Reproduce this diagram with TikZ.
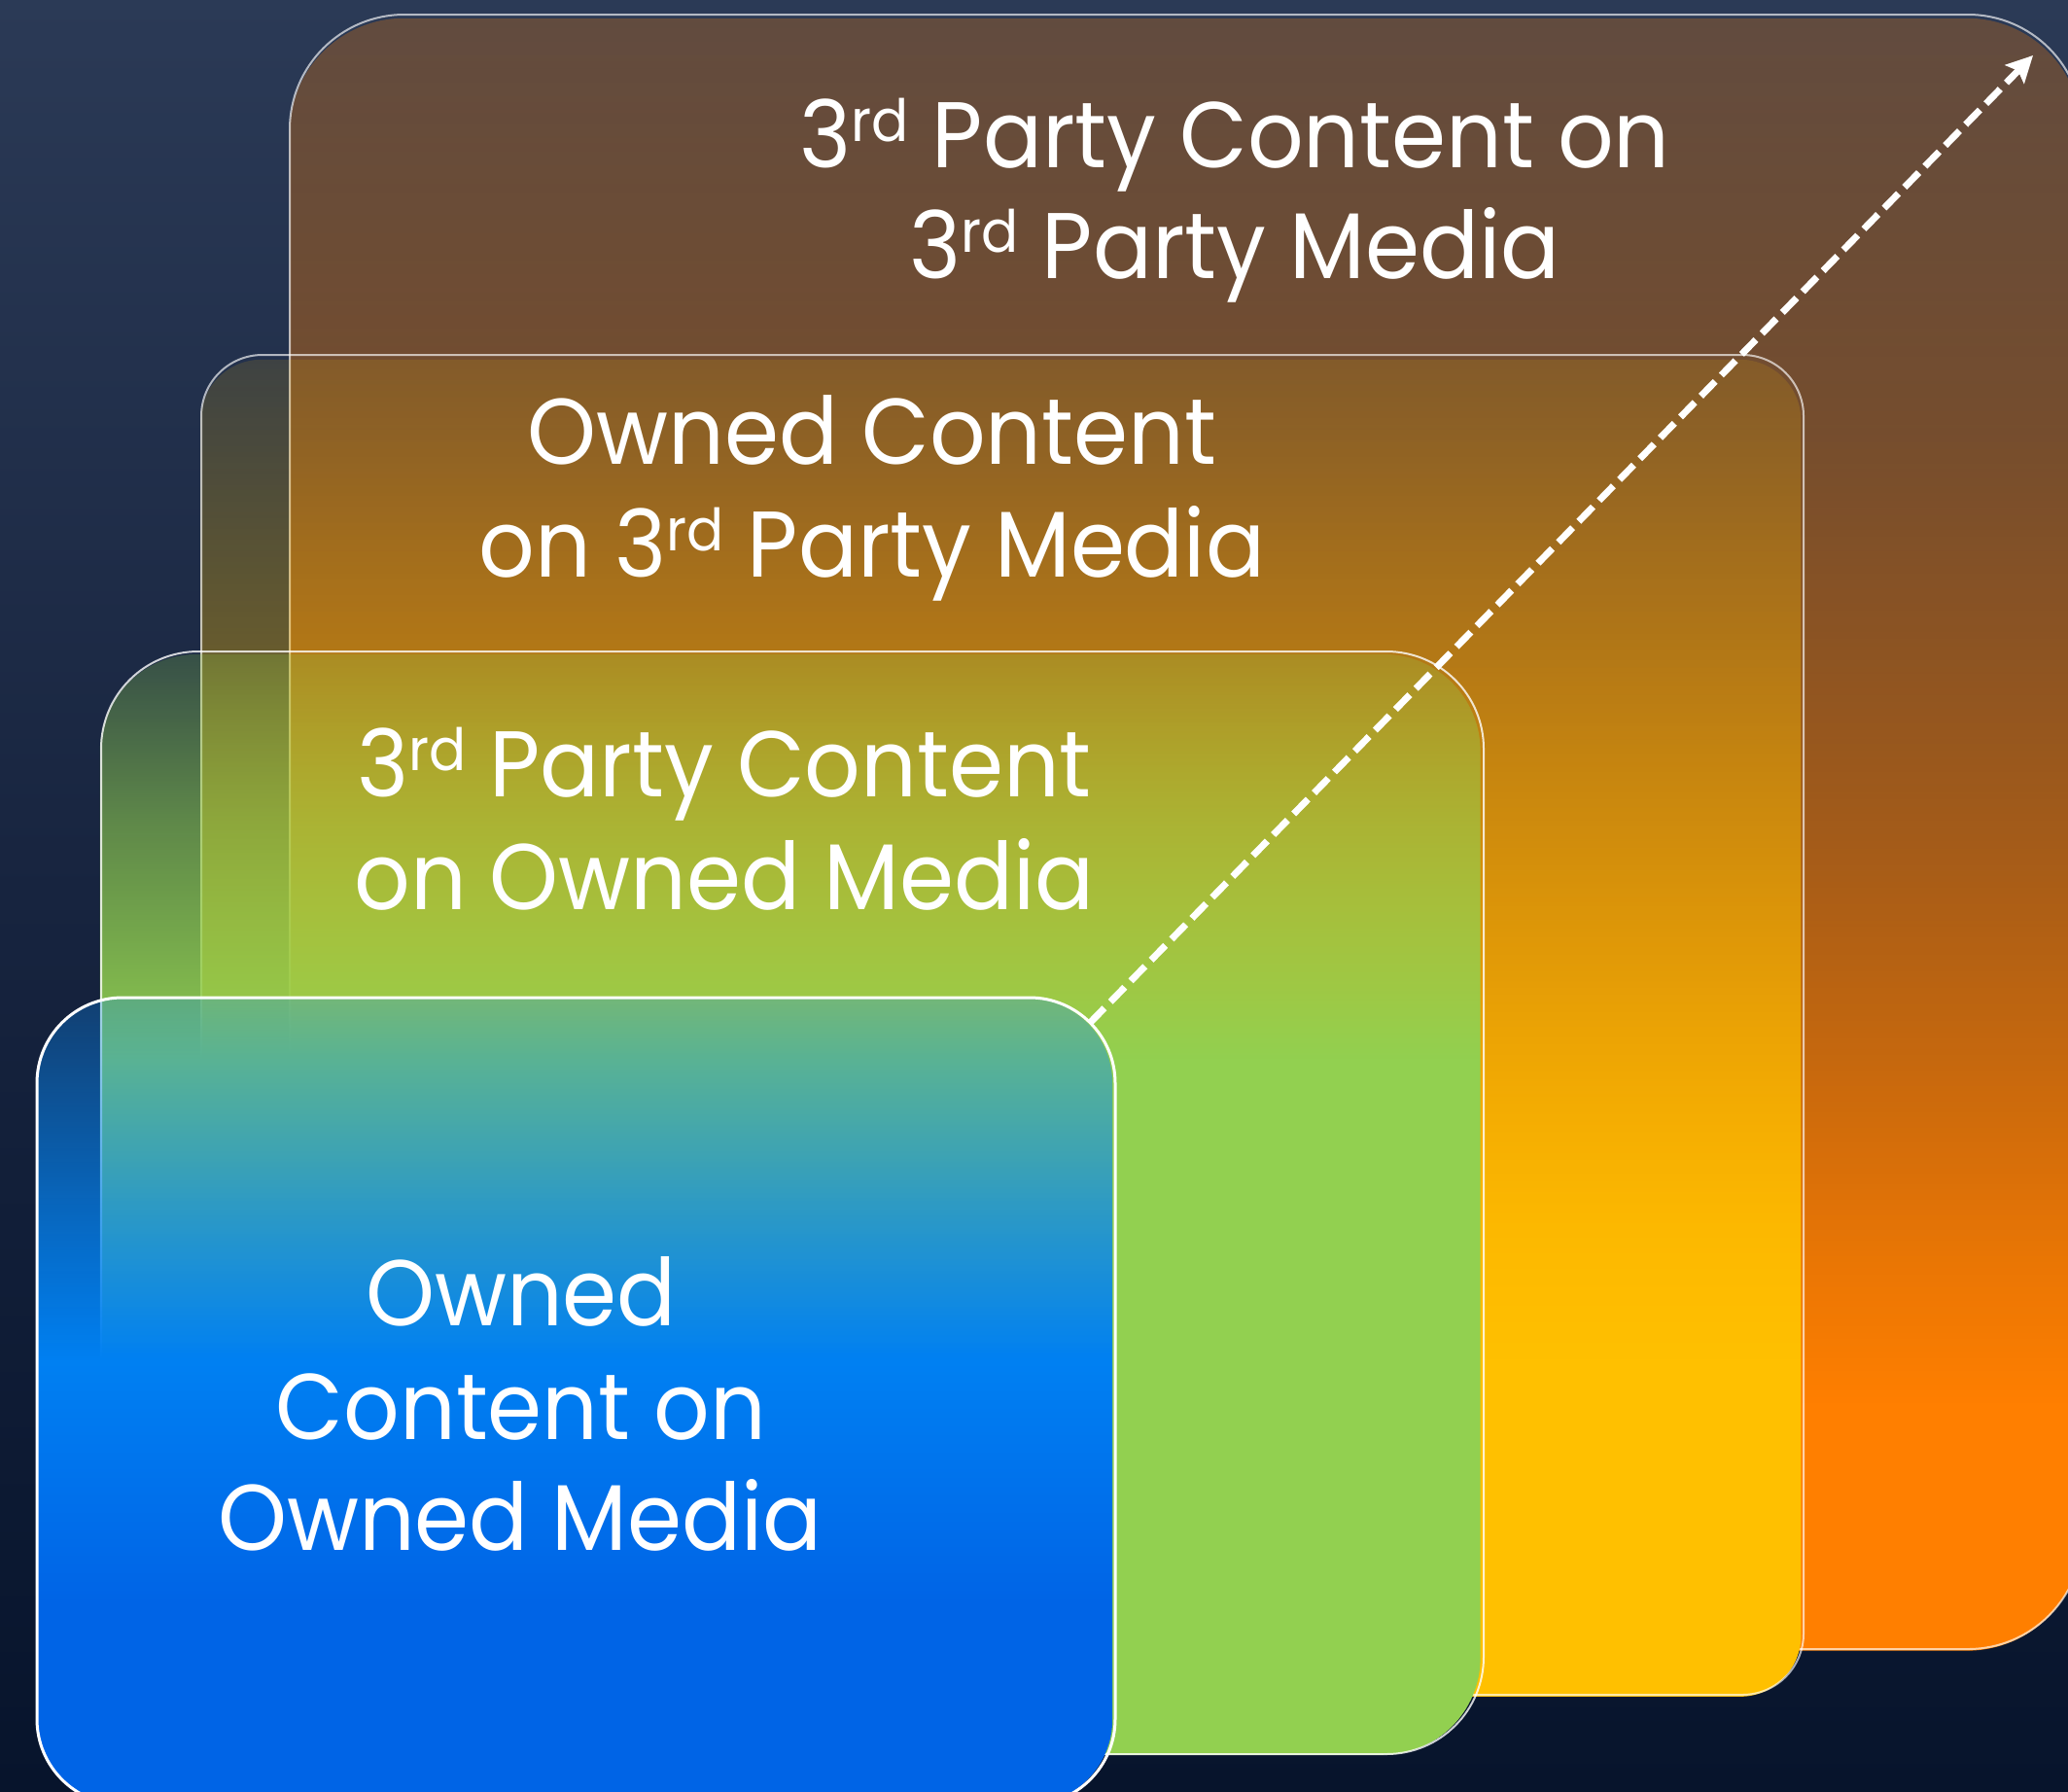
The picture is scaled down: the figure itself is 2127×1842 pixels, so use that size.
\documentclass[tikz,border=0pt]{standalone}
\usepackage{fontspec}
\setmainfont{Poppins}[FakeStretch=0.94]
\usetikzlibrary{arrows.meta,fadings}

\definecolor{bgtop}{HTML}{2B3A56}
\definecolor{bgmid}{HTML}{17243F}
\definecolor{bgbot}{HTML}{07142C}
\definecolor{orangec}{HTML}{FF7F00}
\definecolor{yellowc}{HTML}{FFC000}
\definecolor{greenc}{HTML}{92D050}
\definecolor{blueT}{HTML}{0A8AF8}
\definecolor{blueM}{HTML}{0080F2}
\definecolor{blueB}{HTML}{0064E6}

% TikZ maps the central band 25bp..75bp of a shading/fading onto the path's bounding box
\pgfdeclareverticalshading{bgshade}{100bp}{color(0bp)=(bgbot); color(25bp)=(bgbot); color(50bp)=(bgmid); color(75bp)=(bgtop); color(100bp)=(bgtop)}
\pgfdeclareverticalshading{blueshade}{100bp}{color(0bp)=(blueB); color(25bp)=(blueB); color(37.5bp)=(blueB); color(52.5bp)=(blueM); color(75bp)=(blueT); color(100bp)=(blueT)}

% opacity profiles (25bp = bottom edge, 75bp = top edge)
\pgfdeclareverticalshading{orangefs}{100bp}{color(0bp)=(pgftransparent!0); color(32.5bp)=(pgftransparent!0); color(37bp)=(pgftransparent!9); color(43bp)=(pgftransparent!24); color(49.5bp)=(pgftransparent!39); color(56bp)=(pgftransparent!51); color(62.25bp)=(pgftransparent!62); color(75bp)=(pgftransparent!74); color(100bp)=(pgftransparent!74)}
\pgfdeclarefading{orangefade}{\pgfuseshading{orangefs}}
\pgfdeclareverticalshading{yellowfs}{100bp}{color(0bp)=(pgftransparent!0); color(37.5bp)=(pgftransparent!0); color(42.5bp)=(pgftransparent!10); color(52.5bp)=(pgftransparent!40); color(64bp)=(pgftransparent!67); color(75bp)=(pgftransparent!88); color(100bp)=(pgftransparent!88)}
\pgfdeclarefading{yellowfade}{\pgfuseshading{yellowfs}}
\pgfdeclareverticalshading{greenfs}{100bp}{color(0bp)=(pgftransparent!0); color(56.5bp)=(pgftransparent!0); color(59.5bp)=(pgftransparent!14); color(67.2bp)=(pgftransparent!42); color(75bp)=(pgftransparent!78); color(100bp)=(pgftransparent!78)}
\pgfdeclarefading{greenfade}{\pgfuseshading{greenfs}}
\pgfdeclareverticalshading{bluefs}{100bp}{color(0bp)=(pgftransparent!0); color(52.5bp)=(pgftransparent!0); color(62.25bp)=(pgftransparent!30); color(75bp)=(pgftransparent!72); color(100bp)=(pgftransparent!72)}
\pgfdeclarefading{bluefade}{\pgfuseshading{bluefs}}

\newcommand\ordsup[1]{\raisebox{27pt}{\fontsize{60}{60}\selectfont #1}}

\tikzset{
  lbl/.style={text=white, anchor=base, inner sep=0pt, font=\fontsize{96}{115}\selectfont},
  boxline/.style={draw=white, draw opacity=0.65, line width=2pt},
  frontline/.style={draw=white, line width=3pt},
  arrowline/.style={white, line width=7pt, dash pattern=on 21pt off 9pt, -{Stealth[length=27pt,width=27pt,inset=5pt]}}
}

\begin{document}
\begin{tikzpicture}[x=1pt,y=-1pt]
\useasboundingbox (0,0) rectangle (2127,1842);
\clip (0,0) rectangle (2127,1842);
\shade[shading=bgshade] (0,0) rectangle (2127,1842);

% corners of the four panels
\coordinate (oTL) at (298,15);   \coordinate (oBR) at (2142,1696);
\coordinate (yTL) at (207,365);  \coordinate (yBR) at (1855,1743);
\coordinate (gTL) at (104,670);  \coordinate (gBR) at (1526,1804);
\coordinate (bTL) at (38,1026);  \coordinate (bBR) at (1147,1856);

% 3rd party content on 3rd party media
\fill[orangec, path fading=orangefade, rounded corners=118pt] (oTL) rectangle (oBR);
\path[boxline, rounded corners=118pt] (oTL) rectangle (oBR);
% owned content on 3rd party media
\fill[yellowc, path fading=yellowfade, rounded corners=63pt] (yTL) rectangle (yBR);
\path[boxline, rounded corners=63pt] (yTL) rectangle (yBR);
% 3rd party content on owned media
\fill[greenc, path fading=greenfade, rounded corners=100pt] (gTL) rectangle (gBR);
\path[boxline, draw opacity=0.8, rounded corners=100pt] (gTL) rectangle (gBR);
% owned content on owned media
\shade[shading=blueshade, path fading=bluefade, rounded corners=88pt] (bTL) rectangle (bBR);
\path[frontline, rounded corners=88pt] (bTL) rectangle (bBR);

% growth arrow
\coordinate (arrStart) at (1121.2,1051.8);
\coordinate (arrEnd) at (2091,57);
\draw[arrowline] (arrStart) -- (arrEnd);

% labels
\node[lbl] (t1a) at (1270,172) {3\ordsup{rd} Party Content on};
\node[lbl] (t1b) at (1270,286) {3\ordsup{rd} Party Media};
\node[lbl] (t2a) at (897,477) {Owned Content};
\node[lbl] (t2b) at (897,593) {on 3\ordsup{rd} Party Media};
\node[lbl] (t3a) at (745,819) {3\ordsup{rd} Party Content};
\node[lbl] (t3b) at (745,935) {on Owned Media};
\node[lbl] (t4a) at (536,1363) {Owned};
\node[lbl] (t4b) at (536,1480) {Content on};
\node[lbl] (t4c) at (535,1594) {Owned Media};
\end{tikzpicture}
\end{document}
